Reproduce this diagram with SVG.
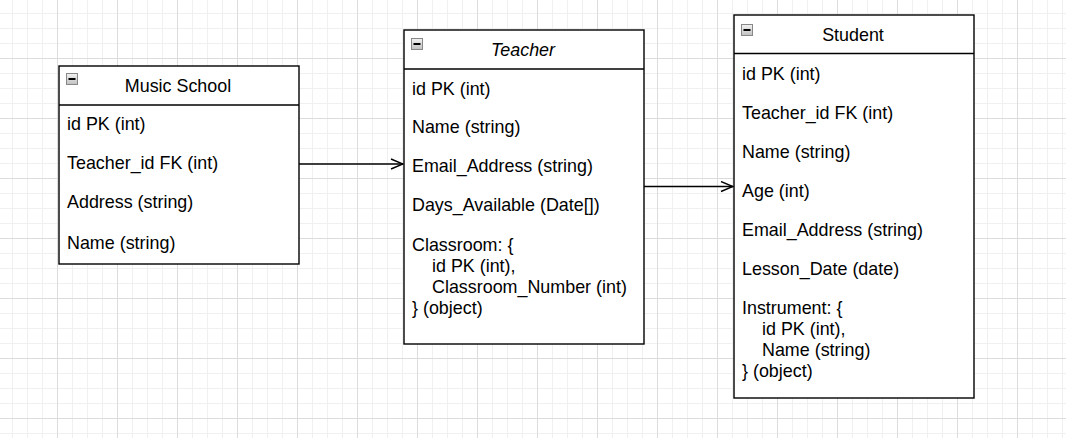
<svg xmlns="http://www.w3.org/2000/svg" width="1066" height="438" viewBox="0 0 1066 438">
<style>
.box{fill:#ffffff;stroke:#000000;stroke-width:1.4}
.sep{stroke:#000000;stroke-width:1.4;fill:none}
.t{font-family:"Liberation Sans",Arial,sans-serif;font-size:17.9px;fill:#000000}
.title{text-anchor:middle}
.it{font-style:italic}
.conn{stroke:#000000;stroke-width:1.4;fill:none}
</style>
<defs>
<pattern id="grid" patternUnits="userSpaceOnUse" x="57" y="58" width="60" height="60">
<rect x="15" y="0" width="1" height="60" fill="#f0f0f0"/>
<rect x="30" y="0" width="1" height="60" fill="#f0f0f0"/>
<rect x="45" y="0" width="1" height="60" fill="#f0f0f0"/>
<rect x="0" y="15" width="60" height="1" fill="#f0f0f0"/>
<rect x="0" y="30" width="60" height="1" fill="#f0f0f0"/>
<rect x="0" y="45" width="60" height="1" fill="#f0f0f0"/>
<rect x="0" y="0" width="1" height="60" fill="#dcdcdc"/>
<rect x="0" y="0" width="60" height="1" fill="#dcdcdc"/>
</pattern>
<linearGradient id="ig" x1="0" y1="0" x2="0" y2="1">
<stop offset="0" stop-color="#f4f4f4"/>
<stop offset="1" stop-color="#c0c0c0"/>
</linearGradient>
<g id="minus">
<rect x="0.5" y="0.5" width="11" height="11" fill="url(#ig)" stroke="#888888" stroke-width="1"/>
<rect x="2.5" y="5" width="7" height="2" fill="#000000"/>
</g>
<marker id="open" viewBox="0 0 14 12" refX="13" refY="6" markerWidth="14" markerHeight="12" markerUnits="userSpaceOnUse" orient="auto">
<polyline points="1,1 13,6 1,11" fill="none" stroke="#000000" stroke-width="1.4"/>
</marker>
</defs>
<rect x="0" y="0" width="1066" height="438" fill="#ffffff"/>
<rect x="0" y="0" width="1066" height="438" fill="url(#grid)"/>

<g id="connectors">
<line class="conn" x1="299" y1="164" x2="403" y2="164" marker-end="url(#open)"/>
<line class="conn" x1="644" y1="186.5" x2="733" y2="186.5" marker-end="url(#open)"/>
</g>

<g id="music-school">
<rect class="box" x="59" y="66" width="240" height="198"/>
<line class="sep" x1="59" y1="105" x2="299" y2="105"/>
<use href="#minus" x="66" y="73"/>
<text class="t title" x="178" y="91.7">Music School</text>
<text class="t" x="67" y="130">id PK (int)</text>
<text class="t" x="67" y="168.5">Teacher_id FK (int)</text>
<text class="t" x="67" y="208">Address (string)</text>
<text class="t" x="67" y="249">Name (string)</text>
</g>

<g id="teacher">
<rect class="box" x="404" y="30" width="240" height="314"/>
<line class="sep" x1="404" y1="69" x2="644" y2="69"/>
<use href="#minus" x="411" y="38"/>
<text class="t title it" x="523" y="56">Teacher</text>
<text class="t" x="412" y="94.6">id PK (int)</text>
<text class="t" x="412" y="133">Name (string)</text>
<text class="t" x="412" y="172">Email_Address (string)</text>
<text class="t" x="412" y="211">Days_Available (Date[])</text>
<text class="t" x="412" y="251">Classroom: {</text>
<text class="t" x="432" y="272">id PK (int),</text>
<text class="t" x="432" y="293">Classroom_Number (int)</text>
<text class="t" x="412" y="314">} (object)</text>
</g>

<g id="student">
<rect class="box" x="734" y="15" width="240" height="383"/>
<line class="sep" x1="734" y1="53.5" x2="974" y2="53.5"/>
<use href="#minus" x="741" y="24"/>
<text class="t title" x="853" y="41.3">Student</text>
<text class="t" x="742" y="79.5">id PK (int)</text>
<text class="t" x="742" y="118.5">Teacher_id FK (int)</text>
<text class="t" x="742" y="157.5">Name (string)</text>
<text class="t" x="742" y="196.5">Age (int)</text>
<text class="t" x="742" y="235.5">Email_Address (string)</text>
<text class="t" x="742" y="274.5">Lesson_Date (date)</text>
<text class="t" x="742" y="314">Instrument: {</text>
<text class="t" x="762" y="335">id PK (int),</text>
<text class="t" x="762" y="356">Name (string)</text>
<text class="t" x="742" y="377">} (object)</text>
</g>
</svg>
